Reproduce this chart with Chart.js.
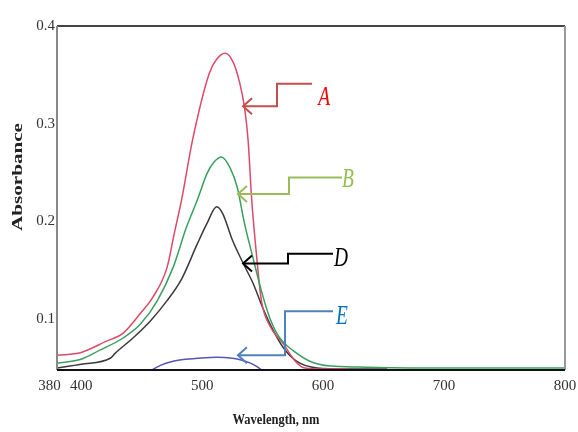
<!DOCTYPE html>
<html>
<head>
<meta charset="utf-8">
<script src="https://cdn.jsdelivr.net/npm/chart.js@4/dist/chart.umd.min.js"></script>
<style>
html,body{margin:0;padding:0;background:#fff;}
#wrap{width:578px;height:432px;position:relative;}
</style>
</head>
<body>
<div id="wrap"><canvas id="c" width="578" height="432"></canvas></div>
<script>
// ---- data ----
const xTicks = [380, 400, 500, 600, 700, 800];
const yTicks = [0.1, 0.2, 0.3, 0.4];

const wlA  = [380, 400, 420, 435, 449, 459, 471, 477, 483, 492, 506, 512, 519, 526, 531, 535, 538, 541, 545, 549, 556, 567, 577, 585, 600, 620];
const absA = [0.063, 0.066, 0.077, 0.086, 0.106, 0.122, 0.153, 0.188, 0.222, 0.283, 0.352, 0.366, 0.372, 0.362, 0.342, 0.317, 0.283, 0.222, 0.165, 0.119, 0.093, 0.075, 0.057, 0.050, 0.049, 0.049];

const wlB  = [380, 400, 415, 435, 449, 463, 476, 487, 496, 504, 510, 516, 523, 529, 535, 542, 549, 556, 564, 575, 589, 606, 630, 700, 800];
const absB = [0.055, 0.059, 0.068, 0.081, 0.095, 0.119, 0.153, 0.194, 0.222, 0.249, 0.261, 0.266, 0.255, 0.235, 0.198, 0.163, 0.129, 0.101, 0.081, 0.068, 0.057, 0.052, 0.051, 0.050, 0.050];

const wlD  = [380, 400, 424, 428, 443, 457, 471, 483, 496, 504, 512, 517, 525, 534, 542, 550, 559, 567, 578, 595, 620, 653];
const absD = [0.050, 0.054, 0.060, 0.065, 0.081, 0.098, 0.119, 0.141, 0.177, 0.198, 0.215, 0.208, 0.181, 0.157, 0.137, 0.112, 0.088, 0.071, 0.057, 0.050, 0.049, 0.049];

const wlE  = [457, 466, 476, 486, 496, 512, 525, 533, 540, 546, 550];
const absE = [0.047, 0.053, 0.057, 0.059, 0.060, 0.061, 0.060, 0.058, 0.055, 0.051, 0.047];

const seriesNames = ['A', 'B', 'D', 'E'];

// ---- annotation callouts (data coordinates) ----
const callouts = [
  {name:'A', tip:[533.8,0.318], elbowX:561.9, upY:0.341, endX:590.8, label:[600.8,0.327], line:'#c0504d', text:'#ff0000'},
  {name:'B', tip:[529.6,0.228], elbowX:571.8, upY:0.245, endX:615.6, label:[620.6,0.244], line:'#9bbb59', text:'#92c050'},
  {name:'D', tip:[533.8,0.157], elbowX:571.0, upY:0.167, endX:608.2, label:[614.8,0.163], line:'#000000', text:'#000000'},
  {name:'E', tip:[529.6,0.063], elbowX:568.5, upY:0.108, endX:608.2, label:[615.6,0.103], line:'#4f81bd', text:'#0070c0'}
];

function pts(xs, ys){ return xs.map((x,i)=>({x:x, y:ys[i]})); }

const colors = {A:'#dd4a68', B:'#3a9f5e', D:'#3a3a3a', E:'#5656b4'};

const framePlugin = {
  id:'frame',
  afterDatasetsDraw(chart){
    const ctx = chart.ctx, a = chart.chartArea;
    const xs = chart.scales.x, ys = chart.scales.y;
    ctx.save();
    ctx.strokeStyle = '#444'; ctx.lineWidth = 2;
    ctx.beginPath(); ctx.moveTo(a.left, a.top); ctx.lineTo(a.right, a.top); ctx.stroke();
    ctx.strokeStyle = '#999';
    ctx.beginPath(); ctx.moveTo(a.right, a.top); ctx.lineTo(a.right, a.bottom); ctx.stroke();
    ctx.strokeStyle = '#888';
    ctx.beginPath(); ctx.moveTo(a.left, a.top); ctx.lineTo(a.left, a.bottom); ctx.stroke();
    ctx.strokeStyle = '#111';
    ctx.beginPath(); ctx.moveTo(a.left, a.bottom); ctx.lineTo(a.right, a.bottom); ctx.stroke();

    callouts.forEach(c=>{
      const tx = xs.getPixelForValue(c.tip[0]), ty = ys.getPixelForValue(c.tip[1]);
      const ex = xs.getPixelForValue(c.elbowX), uy = ys.getPixelForValue(c.upY);
      const endx = xs.getPixelForValue(c.endX);
      ctx.strokeStyle = c.line; ctx.lineWidth = 2;
      ctx.beginPath();
      ctx.moveTo(tx, ty); ctx.lineTo(ex, ty); ctx.lineTo(ex, uy); ctx.lineTo(endx, uy);
      ctx.stroke();
      ctx.beginPath();
      ctx.moveTo(tx+9, ty-8); ctx.lineTo(tx, ty); ctx.lineTo(tx+9, ty+8);
      ctx.stroke();
      const lx = xs.getPixelForValue(c.label[0]), ly = ys.getPixelForValue(c.label[1]);
      ctx.save();
      ctx.translate(lx, ly);
      ctx.scale(0.72, 1);
      ctx.fillStyle = c.text;
      ctx.font = 'italic 27px "Liberation Serif", serif';
      ctx.textAlign = 'center'; ctx.textBaseline = 'middle';
      ctx.fillText(c.name, 0, 1);
      ctx.restore();
    });

    ctx.fillStyle = '#222';
    ctx.textAlign = 'center'; ctx.textBaseline = 'middle';
    ctx.font = 'bold 13px "Liberation Serif", serif';
    let t = 'Absorbance';
    let w = ctx.measureText(t).width;
    ctx.save();
    ctx.translate(18, 177); ctx.rotate(-Math.PI/2); ctx.scale(108/w, 1.05);
    ctx.fillText(t, 0, 0);
    ctx.restore();
    t = 'Wavelength, nm';
    w = ctx.measureText(t).width;
    ctx.save();
    ctx.translate(276, 420); ctx.scale(87/w, 1.1);
    ctx.fillText(t, 0, 0);
    ctx.restore();
    ctx.restore();
  }
};

const mkDs = (name, xs, ys) => ({
  label: name,
  data: pts(xs, ys),
  borderColor: colors[name],
  borderWidth: 1.5,
  pointRadius: 0,
  fill: false,
  cubicInterpolationMode: 'monotone'
});

new Chart(document.getElementById('c'), {
  type: 'line',
  data: {
    datasets: [
      mkDs(seriesNames[3], wlE, absE),
      mkDs(seriesNames[1], wlB, absB),
      mkDs(seriesNames[0], wlA, absA),
      mkDs(seriesNames[2], wlD, absD)
    ]
  },
  options: {
    responsive: false,
    animation: false,
    devicePixelRatio: 1,
    layout: { padding: { top: 26, right: 13, left: 0, bottom: 0 } },
    plugins: { legend: { display: false }, tooltip: { enabled: false } },
    scales: {
      x: {
        type: 'linear', min: 380, max: 800,
        grid: { display: false, drawTicks: false },
        border: { display: false },
        afterBuildTicks: s => { s.ticks = xTicks.map(v => ({ value: v })); },
        afterFit: s => { s.height = 62; s.paddingLeft = 0; s.paddingRight = 0; },
        ticks: {
          padding: 7, color: '#333', maxRotation: 0, autoSkip: false,
          font: { family: '"Liberation Serif", serif', size: 15 },
          callback: v => v === 380 ? '380\u2003' : String(v)
        }
      },
      y: {
        type: 'linear', min: 0.048, max: 0.4,
        grid: { display: false, drawTicks: false },
        border: { display: false },
        afterBuildTicks: s => { s.ticks = yTicks.map(v => ({ value: v })); },
        afterFit: s => { s.width = 57; s.paddingTop = 0; s.paddingBottom = 0; },
        ticks: {
          padding: 2, color: '#333', autoSkip: false,
          font: { family: '"Liberation Serif", serif', size: 15 },
          callback: v => Number(v).toFixed(1)
        }
      }
    }
  },
  plugins: [framePlugin]
});
</script>
</body>
</html>
